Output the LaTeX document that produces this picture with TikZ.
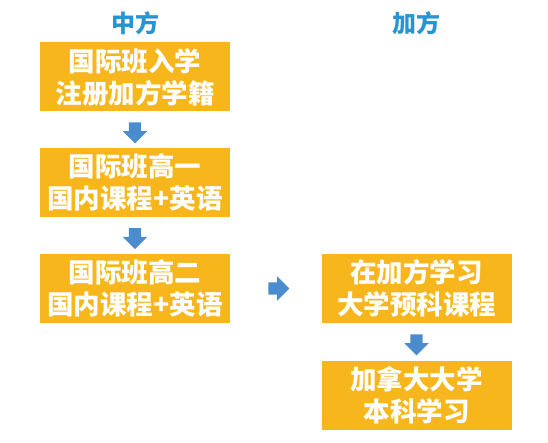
\documentclass[tikz,border=0pt]{standalone}
\usepackage{fontspec}
\newfontfamily\cjk{Noto Sans CJK SC}
\usetikzlibrary{shapes.arrows,calc}
\definecolor{boxfill}{RGB}{247,182,28}
\definecolor{titleblue}{RGB}{38,150,210}
\definecolor{arrowblue}{RGB}{74,140,205}
\begin{document}
\begin{tikzpicture}[x=1pt,y=-1pt,
  stage/.style={fill=boxfill, text=white, minimum width=190pt, minimum height=69pt,
    align=center, inner sep=0pt, font=\cjk\bfseries\fontsize{26.5}{32}\selectfont},
  title/.style={text=titleblue, inner sep=0pt, font=\cjk\bfseries\fontsize{24}{28}\selectfont},
  blockarrow/.style={single arrow, fill=arrowblue, draw=none, minimum height=21pt,
    minimum width=24pt, inner sep=6pt, single arrow head extend=6pt},
  downarrow/.style={blockarrow, shape border rotate=270}]
\useasboundingbox (0,0) rectangle (548,443);
\fill[white] (0,0) rectangle (548,443);

\node[title] (tcn) at (135,23) {中方};
\node[title] (tca) at (416,23) {加方};

\node[stage] (b1) at (135,77)    {国际班入学\\注册加方学籍};
\node[stage] (b2) at (135,182.5) {国际班高一\\国内课程+英语};
\node[stage] (b3) at (135,288.5) {国际班高二\\国内课程+英语};
\node[stage] (b4) at (416.5,288.5) {在加方学习\\大学预科课程};
\node[stage] (b5) at (416.5,395) {加拿大大学\\本科学习};

\node[downarrow] (a1) at ($(b1.south)!0.5!(b2.north)$) {};
\node[downarrow] (a2) at ($(b2.south)!0.5!(b3.north)$) {};
\node[blockarrow] (a3) at ($(b3.east)!0.5!(b4.west)$) {};
\node[downarrow] (a4) at ($(b4.south)!0.5!(b5.north)$) {};
\end{tikzpicture}
\end{document}
